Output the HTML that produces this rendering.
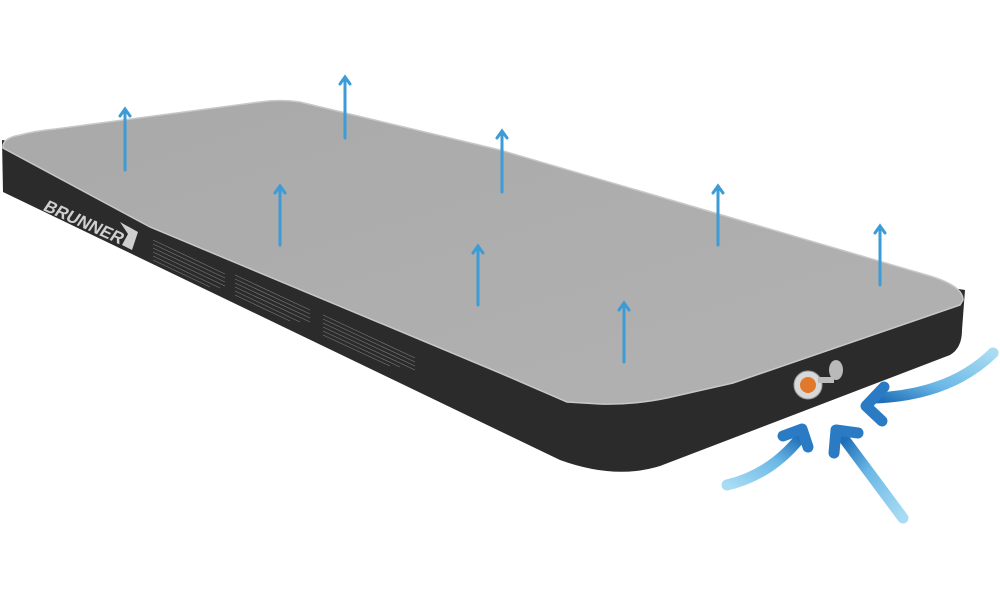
<!DOCTYPE html>
<html><head><meta charset="utf-8"><style>
html,body{margin:0;padding:0;background:#fff;width:1000px;height:600px;overflow:hidden}
</style></head><body>
<svg width="1000" height="600" viewBox="0 0 1000 600" xmlns="http://www.w3.org/2000/svg">
<defs>
<linearGradient id="bg1" x1="0" y1="1" x2="1" y2="0"><stop offset="0" stop-color="#a8dcf3"/><stop offset="0.6" stop-color="#6bb8e6"/><stop offset="1" stop-color="#1f6fb8"/></linearGradient>
<linearGradient id="bg2" x1="1" y1="1" x2="0" y2="0"><stop offset="0" stop-color="#a8dcf3"/><stop offset="0.6" stop-color="#6bb8e6"/><stop offset="1" stop-color="#1f6fb8"/></linearGradient>
<linearGradient id="bg3" x1="1" y1="0" x2="0" y2="1"><stop offset="0" stop-color="#a8dcf3"/><stop offset="0.6" stop-color="#6bb8e6"/><stop offset="1" stop-color="#1f6fb8"/></linearGradient>
<linearGradient id="top" x1="0" y1="0" x2="1" y2="1"><stop offset="0" stop-color="#a9a9a9"/><stop offset="1" stop-color="#b2b2b2"/></linearGradient>
</defs>
<path d="M2,140 L3,192 L560,460 Q615,480 660,466 L950,355 Q962,348 962,330 L965,290 Z" fill="#2b2b2b"/>
<path d="M3,148 Q2,138 20,135 Q35,131 55,129 L260,102 Q280,99 300,102 L333,110 L500,150 L930,276 Q963,286 963,300 L960,305 L733,383 L667,398 Q633,405 600,404 L567,402 L500,373 L150,227 Z" fill="url(#top)" stroke="#c8c8c8" stroke-width="1.5"/>
<g transform="translate(50,198) rotate(24) skewX(-10)" fill="#cfcfcf" font-family="Liberation Sans, sans-serif" font-weight="bold" font-size="17">
<text x="0" y="14">BRUNNER</text>
</g>
<path d="M120,222 L138,232 L132,250 L122,245 L128,234 Z" fill="#cfcfcf"/>
<g stroke="#7a7a7a" stroke-width="0.6">
<line x1="153" y1="240" x2="225" y2="274"/><line x1="153" y1="244" x2="225" y2="278"/><line x1="153" y1="248" x2="225" y2="282"/><line x1="153" y1="252" x2="225" y2="286"/><line x1="153" y1="256" x2="220" y2="288"/><line x1="153" y1="260" x2="210" y2="287"/>
<line x1="235" y1="275" x2="310" y2="310"/><line x1="235" y1="279" x2="310" y2="314"/><line x1="235" y1="283" x2="310" y2="318"/><line x1="235" y1="287" x2="310" y2="322"/><line x1="235" y1="291" x2="300" y2="322"/><line x1="235" y1="295" x2="290" y2="321"/>
<line x1="323" y1="315" x2="415" y2="358"/><line x1="323" y1="319" x2="415" y2="362"/><line x1="323" y1="323" x2="415" y2="366"/><line x1="323" y1="327" x2="415" y2="370"/><line x1="323" y1="331" x2="400" y2="367"/><line x1="323" y1="335" x2="390" y2="366"/>
</g>
<g stroke="#3d9bd6" stroke-width="3" fill="none" stroke-linecap="round">
<line x1="125" y1="170" x2="125" y2="110"/><polyline points="120,116 125,109 130,116"/>
<line x1="345" y1="138" x2="345" y2="78"/><polyline points="340,84 345,77 350,84"/>
<line x1="502" y1="192" x2="502" y2="132"/><polyline points="497,138 502,131 507,138"/>
<line x1="280" y1="245" x2="280" y2="187"/><polyline points="275,193 280,186 285,193"/>
<line x1="478" y1="305" x2="478" y2="247"/><polyline points="473,253 478,246 483,253"/>
<line x1="718" y1="245" x2="718" y2="187"/><polyline points="713,193 718,186 723,193"/>
<line x1="880" y1="285" x2="880" y2="227"/><polyline points="875,233 880,226 885,233"/>
<line x1="624" y1="362" x2="624" y2="304"/><polyline points="619,310 624,303 629,310"/>
</g>
<circle cx="808" cy="385" r="14" fill="#d8d8d8" stroke="#9a9a9a"/>
<circle cx="808" cy="385" r="8" fill="#e07a2a"/>
<ellipse cx="836" cy="370" rx="7" ry="10" fill="#b9b9b9"/>
<rect x="818" y="377" width="16" height="6" fill="#bcbcbc"/>
<g fill="none" stroke-linecap="round" stroke-linejoin="round" stroke-width="11">
<path d="M727,485 Q770,475 800,438" stroke="url(#bg1)"/>
<polyline points="783,436 802,429 808,447" stroke="#2a7bc4"/>
<path d="M903,518 L845,440" stroke="url(#bg2)"/>
<polyline points="834,453 836,430 858,433" stroke="#2a7bc4"/>
<path d="M993,353 Q950,395 875,398" stroke="url(#bg3)"/>
<polyline points="884,387 866,406 882,421" stroke="#2a7bc4"/>
</g>
</svg>
</body></html>
